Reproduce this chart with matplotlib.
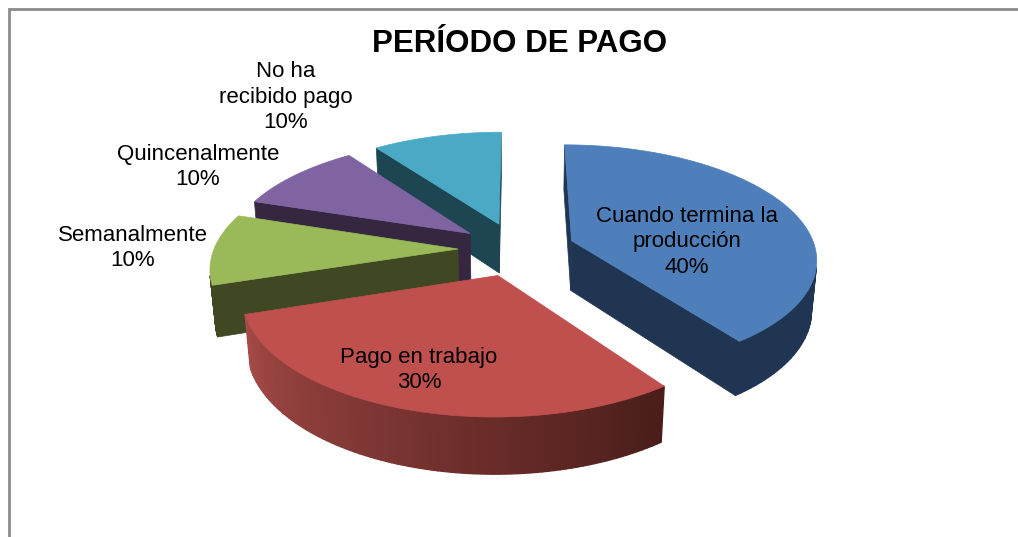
import numpy as np
import matplotlib
matplotlib.use('Agg')
import matplotlib.pyplot as plt
from matplotlib.patches import Polygon

plt.rcParams['font.family'] = ['Liberation Sans', 'DejaVu Sans']

title = 'PERÍODO DE PAGO'
labels = ['Cuando termina la\nproducción', 'Pago en trabajo', 'Semanalmente', 'Quincenalmente', 'No ha\nrecibido pago']
values = [40, 30, 10, 10, 10]

top_colors = ['#4f7fbb', '#bf504d', '#9aba59', '#8064a2', '#4aaac5']
wall_colors = ['#1f3552', '#3f1a18', '#3f4822', '#362740', '#1d4552']
rim_start_colors = ['#1f3552', '#4a1d1a', '#3f4822', '#362740', '#1d4552']
rim_end_colors = ['#1f3552', '#a54a47', '#3f4822', '#362740', '#1d4552']
label_pos = [(687, 242), (419, 370), (133, 248), (198, 167), (286, 97)]
draw_order = [4, 3, 2, 0, 1]

# camera, fitted by eye
cx, cy = 516.5, 249
sin_e, cos_e = 0.46, 0.888
persp_a, persp_k = 0.0041, 0.0006
explode = 0.24
height = 0.235


def project(x, y, z=0.0):
    s = 1 / (persp_a + persp_k * (y - z * sin_e / cos_e))
    return cx + s * x, cy - s * (y * sin_e + z * cos_e)


def area(xs, ys):
    return 0.5 * np.sum(xs * np.roll(ys, -1) - np.roll(xs, -1) * ys)


def hex_rgb(c):
    return np.array(matplotlib.colors.to_rgb(c))


fig = plt.figure(figsize=(10.18, 5.37), dpi=100)
ax = fig.add_axes([0, 0, 1, 1])
ax.set_xlim(0, 1018)
ax.set_ylim(537, 0)
ax.axis('off')

# chart frame, open on right and bottom
ax.plot([9, 9, 1018], [537, 9, 9], color='#8c8c8c', lw=2, solid_joinstyle='miter')

fractions = np.array(values) / np.sum(values)
ends = 90 - 360 * np.cumsum(fractions)
starts = ends + 360 * fractions

for i in draw_order:
    t0, t1 = np.radians(starts[i]), np.radians(ends[i])
    mid = (t0 + t1) / 2
    ox, oy = explode * np.cos(mid), explode * np.sin(mid)
    theta = np.linspace(t0, t1, 90)
    rx = ox + np.cos(theta)
    ry = oy + np.sin(theta)

    # radial walls, only the ones facing the camera
    for t, sign in ((t0, -1), (t1, 1)):
        wx = np.array([ox, ox + np.cos(t), ox + np.cos(t), ox])
        wy = np.array([oy, oy + np.sin(t), oy + np.sin(t), oy])
        wz = np.array([0, 0, -height, -height])
        px, py = project(wx, wy, wz)
        if area(px, py) * sign < 0:
            continue
        ax.add_patch(Polygon(np.c_[px, py], closed=True, fc=wall_colors[i], ec=wall_colors[i], lw=0.5))

    # outer rim as strips so the shading can run along it
    c0, c1 = hex_rgb(rim_end_colors[i]), hex_rgb(rim_start_colors[i])
    for k in range(len(theta) - 1):
        qx = np.array([rx[k], rx[k + 1], rx[k + 1], rx[k]])
        qy = np.array([ry[k], ry[k + 1], ry[k + 1], ry[k]])
        qz = np.array([0, 0, -height, -height])
        px, py = project(qx, qy, qz)
        if area(px, py) > 0:
            continue
        col = c1 + (c0 - c1) * k / (len(theta) - 2)
        ax.add_patch(Polygon(np.c_[px, py], closed=True, fc=col, ec=col, lw=1.0))

    # top face
    px, py = project(np.r_[ox, rx], np.r_[oy, ry])
    ax.add_patch(Polygon(np.c_[px, py], closed=True, fc=top_colors[i], ec=top_colors[i], lw=0.5))

for name, val, (lx, ly) in zip(labels, values, label_pos):
    ax.text(lx, ly, f'{name}\n{val}%', ha='center', va='center', fontsize=16, color='black', linespacing=1.27)

ax.text(520, 44, title, ha='center', va='center', fontsize=22.5, fontweight='bold', color='black')

fig.savefig('out.png', dpi=100)
